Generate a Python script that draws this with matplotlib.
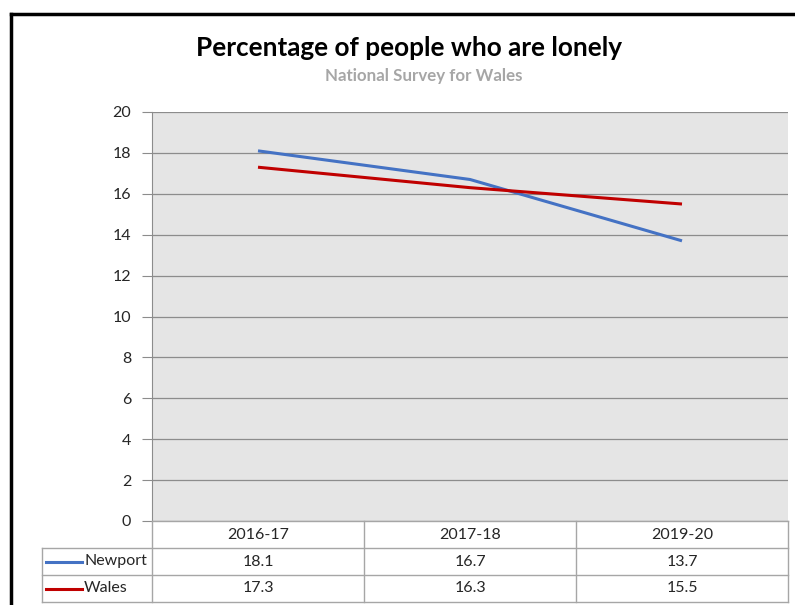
import matplotlib.pyplot as plt
from matplotlib.lines import Line2D

plt.rcParams['font.family'] = ['Lato', 'DejaVu Sans']

# dados
anos = ['2016-17', '2017-18', '2019-20']
newport = [18.1, 16.7, 13.7]
wales = [17.3, 16.3, 15.5]
series = [('Newport', newport, '#4472C4'), ('Wales', wales, '#C00000')]

W, H = 795, 605
fig = plt.figure(figsize=(W / 100, H / 100), dpi=100)

def fx(px):
    return px / W

def fy(py):
    return 1 - py / H

# area do grafico
x0, x1, y_top, y_bot = 152, 788, 112, 521
ax = fig.add_axes([fx(x0), fy(y_bot), fx(x1) - fx(x0), fy(y_top) - fy(y_bot)])
ax.set_facecolor('#E5E5E5')
pos = list(range(len(anos)))
for nome, vals, cor in series:
    ax.plot(pos, vals, color=cor, linewidth=2.2, solid_capstyle='butt', zorder=3)
ax.set_xlim(-0.5, len(anos) - 0.5)
ax.set_ylim(0, 20)
ax.set_yticks(range(0, 21, 2))
ax.set_xticks([])
ax.grid(axis='y', color='#8C8C8C', linewidth=0.9)
ax.set_axisbelow(True)
for s in ['top', 'right', 'bottom']:
    ax.spines[s].set_visible(False)
ax.spines['left'].set_color('#8C8C8C')
ax.tick_params(axis='y', length=7, color='#8C8C8C', labelsize=11.5, labelcolor='#262626', pad=8)

# titulos
fig.text(fx(409), fy(48), 'Percentage of people who are lonely', ha='center', va='center',
         fontsize=18.8, fontweight='bold', color='black')
fig.text(fx(424), fy(76), 'National Survey for Wales', ha='center', va='center',
         fontsize=12.2, fontweight='bold', color='#A6A6A6')

# tabela de dados
col_x = [152, 364, 576, 788]
row_y = [521, 548, 575, 602]
linha = dict(color='#A6A6A6', linewidth=1.0)
for xx in col_x:
    fig.add_artist(Line2D([fx(xx)] * 2, [fy(521), fy(602)], **linha))
fig.add_artist(Line2D([fx(42)] * 2, [fy(548), fy(602)], **linha))
fig.add_artist(Line2D([fx(152), fx(788)], [fy(521)] * 2, **linha))
for yy in row_y[1:]:
    fig.add_artist(Line2D([fx(42), fx(788)], [fy(yy)] * 2, **linha))

for i, ano in enumerate(anos):
    cx = (col_x[i] + col_x[i + 1]) / 2
    fig.text(fx(cx), fy(535), ano, ha='center', va='center', fontsize=11.5, color='#262626')
for r, (nome, vals, cor) in enumerate(series):
    cy = (row_y[r + 1] + row_y[r + 2]) / 2
    fig.add_artist(Line2D([fx(46), fx(82)], [fy(cy)] * 2, color=cor, linewidth=2.2))
    fig.text(fx(84), fy(cy), nome, ha='left', va='center', fontsize=11.5, color='#262626')
    for i, v in enumerate(vals):
        cx = (col_x[i] + col_x[i + 1]) / 2
        fig.text(fx(cx), fy(cy), f'{v:.1f}', ha='center', va='center', fontsize=11.5, color='#262626')

# borda preta
fig.add_artist(Line2D([fx(11), fx(795)], [fy(14)] * 2, color='black', linewidth=2.5))
fig.add_artist(Line2D([fx(11)] * 2, [fy(14), fy(605)], color='black', linewidth=2.5))

fig.savefig('out.png', dpi=100)
